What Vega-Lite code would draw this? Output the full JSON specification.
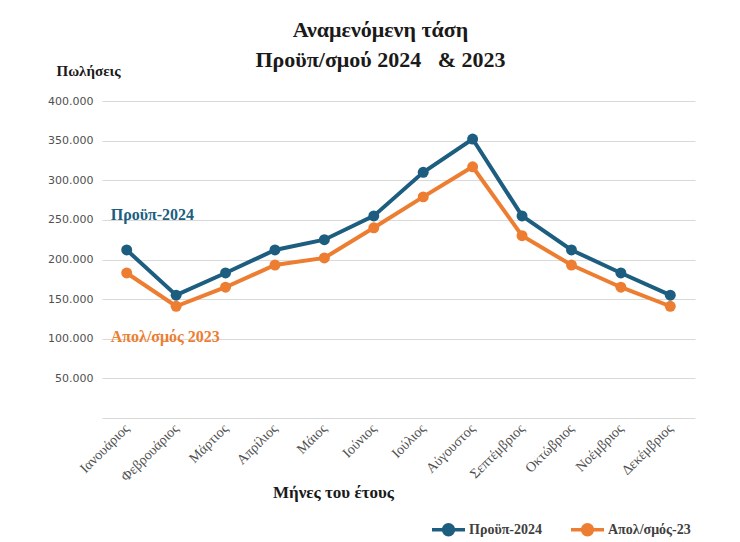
{
  "$schema": "https://vega.github.io/schema/vega-lite/v6.json",
  "width": 593,
  "height": 317,
  "autosize": "none",
  "padding": {"left": 102, "top": 101, "right": 45, "bottom": 124},
  "background": "white",
  "title": {
    "text": ["Αναμενόμενη τάση", "Προϋπ/σμού 2024\u00a0\u00a0\u00a0& 2023"],
    "font": "Liberation Serif",
    "fontSize": 22,
    "fontWeight": "bold",
    "color": "#1a1a1a",
    "anchor": "middle",
    "dx": -18,
    "offset": -9,
    "lineHeight": 30
  },
  "datasets": {
    "sales": [
      {"month": "Ιανουάριος", "series": "Προϋπ-2024", "value": 212000},
      {"month": "Φεβρουάριος", "series": "Προϋπ-2024", "value": 155000},
      {"month": "Μάρτιος", "series": "Προϋπ-2024", "value": 183000},
      {"month": "Απρίλιος", "series": "Προϋπ-2024", "value": 212000},
      {"month": "Μάιος", "series": "Προϋπ-2024", "value": 225000},
      {"month": "Ιούνιος", "series": "Προϋπ-2024", "value": 255000},
      {"month": "Ιούλιος", "series": "Προϋπ-2024", "value": 310000},
      {"month": "Αύγουστος", "series": "Προϋπ-2024", "value": 352000},
      {"month": "Σεπτέμβριος", "series": "Προϋπ-2024", "value": 255000},
      {"month": "Οκτώβριος", "series": "Προϋπ-2024", "value": 212000},
      {"month": "Νοέμβριος", "series": "Προϋπ-2024", "value": 183000},
      {"month": "Δεκέμβριος", "series": "Προϋπ-2024", "value": 155000},
      {"month": "Ιανουάριος", "series": "Απολ/σμός-23", "value": 183000},
      {"month": "Φεβρουάριος", "series": "Απολ/σμός-23", "value": 141000},
      {"month": "Μάρτιος", "series": "Απολ/σμός-23", "value": 165000},
      {"month": "Απρίλιος", "series": "Απολ/σμός-23", "value": 193000},
      {"month": "Μάιος", "series": "Απολ/σμός-23", "value": 202000},
      {"month": "Ιούνιος", "series": "Απολ/σμός-23", "value": 240000},
      {"month": "Ιούλιος", "series": "Απολ/σμός-23", "value": 279000},
      {"month": "Αύγουστος", "series": "Απολ/σμός-23", "value": 317000},
      {"month": "Σεπτέμβριος", "series": "Απολ/σμός-23", "value": 230000},
      {"month": "Οκτώβριος", "series": "Απολ/σμός-23", "value": 193000},
      {"month": "Νοέμβριος", "series": "Απολ/σμός-23", "value": 165000},
      {"month": "Δεκέμβριος", "series": "Απολ/σμός-23", "value": 141000}
    ],
    "notes": [
      {"label": "Προϋπ-2024", "month": "Ιανουάριος", "series": "Προϋπ-2024", "value": 256000},
      {"label": "Απολ/σμός 2023", "month": "Ιανουάριος", "series": "Απολ/σμός-23", "value": 102000}
    ]
  },
  "encoding": {
    "x": {
      "field": "month",
      "type": "ordinal",
      "sort": null,
      "scale": {"padding": 0.5},
      "axis": {
        "labelAngle": -45,
        "labelAlign": "right",
        "labelBaseline": "middle",
        "labelFont": "Liberation Serif",
        "labelFontSize": 14,
        "labelColor": "#505050",
        "labelPadding": 8,
        "labelOverlap": false,
        "ticks": false,
        "domain": false,
        "grid": false,
        "title": "Μήνες του έτους",
        "titleFont": "Liberation Serif",
        "titleFontSize": 17,
        "titleFontWeight": "bold",
        "titleColor": "#1a1a1a",
        "titleX": 231,
        "titleY": 74,
        "titleBaseline": "middle"
      }
    },
    "y": {
      "field": "value",
      "type": "quantitative",
      "scale": {"domain": [0, 400000], "nice": false},
      "axis": {
        "values": [0, 50000, 100000, 150000, 200000, 250000, 300000, 350000, 400000],
        "labelExpr": "datum.value == 0 ? '' : replace(format(datum.value, ','), ',', '.')",
        "labelFont": "DejaVu Sans",
        "labelFontSize": 11,
        "labelColor": "#505050",
        "labelPadding": 9,
        "labelOverlap": false,
        "ticks": false,
        "domain": false,
        "grid": true,
        "gridColor": "#d9d9d9",
        "gridWidth": 1.2,
        "title": "Πωλήσεις",
        "titleAngle": 0,
        "titleAlign": "center",
        "titleBaseline": "middle",
        "titleX": -14,
        "titleY": -31,
        "titleFont": "Liberation Serif",
        "titleFontSize": 15,
        "titleFontWeight": "bold",
        "titleColor": "#1a1a1a"
      }
    }
  },
  "layer": [
    {
      "data": {"name": "sales"},
      "mark": {"type": "line", "strokeWidth": 4, "point": {"filled": true, "size": 120}},
      "encoding": {
        "color": {
          "field": "series",
          "type": "nominal",
          "scale": {"domain": ["Προϋπ-2024", "Απολ/σμός-23"], "range": ["#1D5E80", "#ED7D31"]},
          "legend": {
            "orient": "none",
            "legendX": 328,
            "legendY": 410,
            "direction": "horizontal",
            "title": null,
            "symbolType": "M-1,0L1,0M-0.3,0A0.3,0.3,0,1,0,0.3,0A0.3,0.3,0,1,0,-0.3,0",
            "symbolSize": 1089,
            "symbolStrokeWidth": 3.5,
            "labelFont": "Liberation Serif",
            "labelFontSize": 14,
            "labelFontWeight": "bold",
            "labelColor": "#404040",
            "labelOffset": 2,
            "columnPadding": 22,
            "encode": {"symbols": {"update": {"fill": {"scale": "color", "field": "value"}}}}
          }
        }
      }
    },
    {
      "data": {"name": "notes"},
      "mark": {"type": "text", "align": "left", "baseline": "middle", "dx": -16, "font": "Liberation Serif", "fontSize": 16, "fontWeight": "bold"},
      "encoding": {
        "text": {"field": "label"},
        "color": {"field": "series", "type": "nominal", "legend": null}
      }
    }
  ],
  "config": {"view": {"stroke": null}}
}
